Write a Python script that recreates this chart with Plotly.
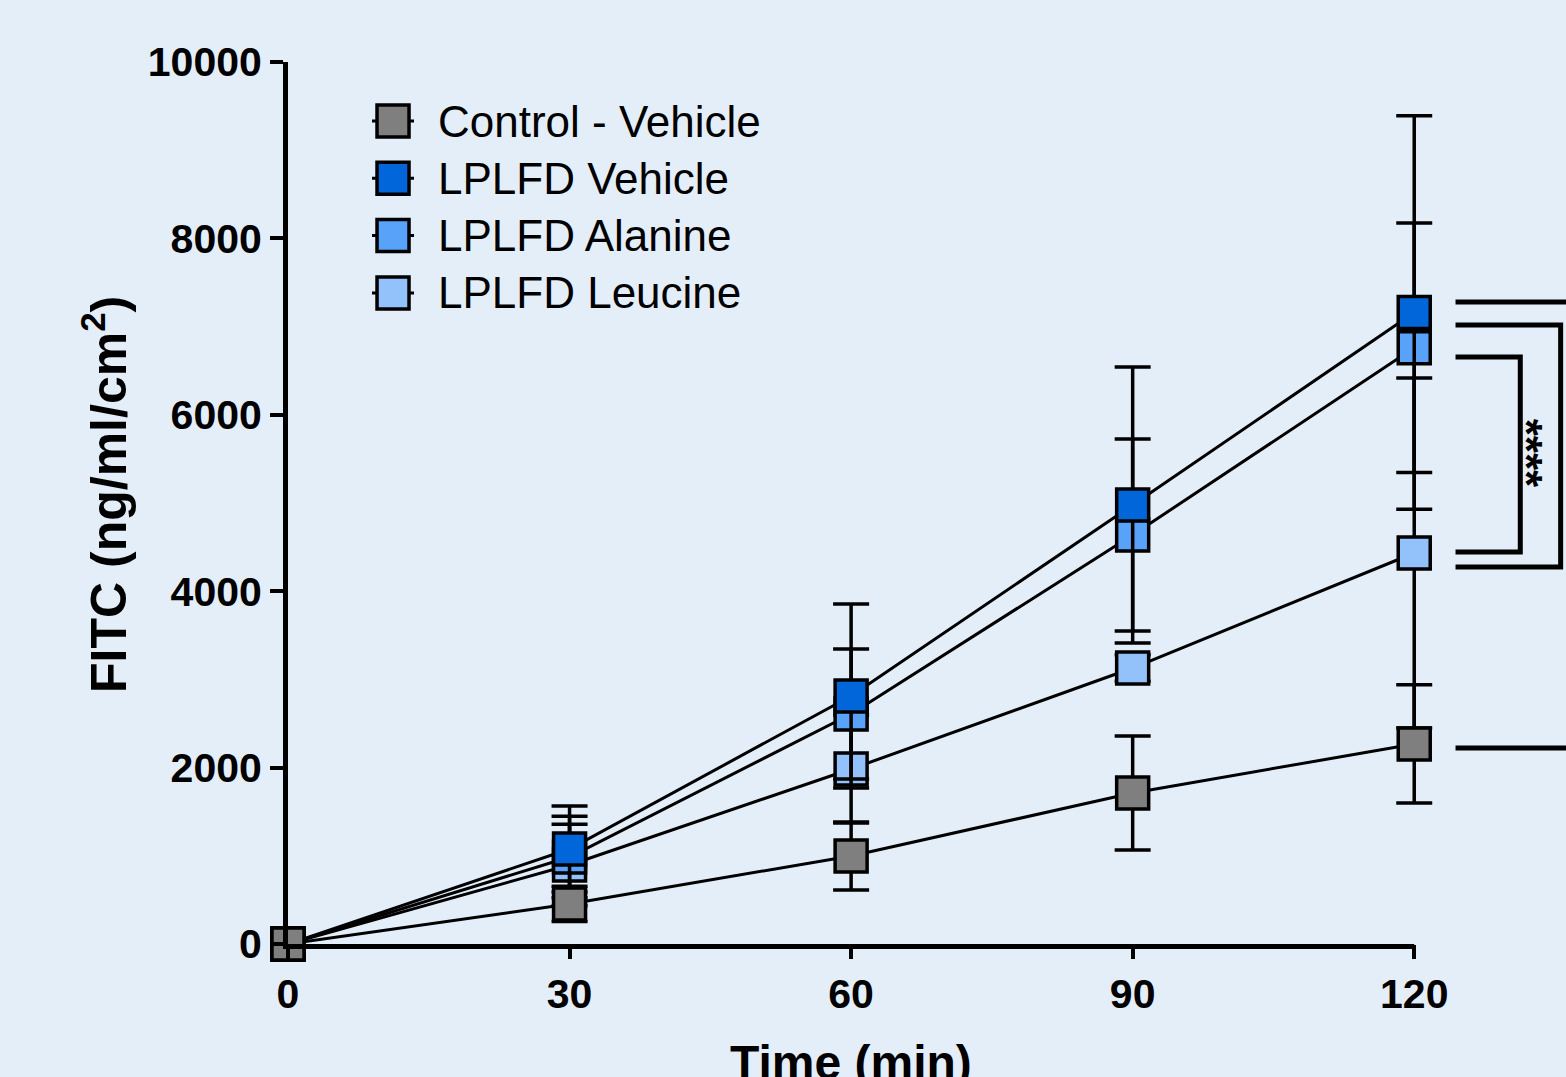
import plotly.graph_objects as go

# ---------------- data ----------------
time_min = [0, 30, 60, 90, 120]
series_names = ["Control - Vehicle", "LPLFD Vehicle", "LPLFD Alanine", "LPLFD Leucine"]
control = [0, 454, 998, 1712, 2268]
control_sd = [0, 200, 386, 646, 670]
vehicle = [0, 1077, 2812, 4977, 7160]
vehicle_sd = [0, 488, 1043, 1565, 2230]
alanine = [0, 986, 2608, 4637, 6760]
alanine_sd = [0, 463, 737, 1089, 1415]
leucine = [0, 896, 1984, 3129, 4433]
leucine_sd = [0, 461, 612, 150, 1984]
y_ticks = [0, 2000, 4000, 6000, 8000, 10000]
x_ticks = [0, 30, 60, 90, 120]
sig_label = "****"

colors = ["#7f7f7f", "#0066d9", "#58a2fa", "#93c1f9"]
bg = "#e4eef9"

# ---------------- layout geometry ----------------
W, H = 1566, 1077
L, R, T, B = 288, 1414, 62, 944      # pixel box spanned by x 0..120, y 0..10000
XMAX, YMAX = 120, 10000
XPAD = 2                              # small extra x range so error bars at 120 aren't clipped
R_PLOT = L + (R - L) * (XMAX + XPAD) / XMAX


def xp(px):
    return (px - L) / (R_PLOT - L)


def yp(py):
    return (B - py) / (B - T)


def tx(t):      # minutes -> paper x
    return t / (XMAX + XPAD)


def vy(v):      # FITC value -> paper y
    return v / YMAX


FONT = "Liberation Sans, Arial, sans-serif"

fig = go.Figure()

values = [control, vehicle, alanine, leucine]
sds = [control_sd, vehicle_sd, alanine_sd, leucine_sd]

# draw in reverse order (last data set first), like the original
for i in [3, 2, 1, 0]:
    fig.add_trace(go.Scatter(
        x=time_min, y=values[i], name=series_names[i],
        mode="lines+markers",
        line=dict(color="black", width=3),
        marker=dict(symbol="square", size=32, color=colors[i],
                    line=dict(color="black", width=3.5)),
        error_y=dict(type="data", array=sds[i], visible=True,
                     color="black", thickness=3.5, width=18),
        cliponaxis=False, showlegend=False,
    ))

shapes = []
annotations = []

# ---- x axis line (ends at 120) ----
shapes.append(dict(type="line", xref="paper", yref="paper",
                   ysizemode="pixel", yanchor=0, y0=-2.5, y1=-2.5,
                   x0=xp(L - 5), x1=tx(XMAX),
                   line=dict(color="black", width=5), layer="above"))

# ---- manual legend ----
leg_x = 393
leg_y0 = 121
leg_dy = 57.3
for i, name in enumerate(series_names):
    cy = leg_y0 + i * leg_dy
    shapes.append(dict(type="line", xref="paper", yref="paper",
                       x0=xp(leg_x - 21), x1=xp(leg_x + 21), y0=yp(cy), y1=yp(cy),
                       line=dict(color="black", width=3)))
    shapes.append(dict(type="rect", xref="paper", yref="paper",
                       xsizemode="pixel", ysizemode="pixel",
                       xanchor=xp(leg_x), yanchor=yp(cy),
                       x0=-16, x1=16, y0=-16, y1=16,
                       fillcolor=colors[i], line=dict(color="black", width=3.5)))
    annotations.append(dict(xref="paper", yref="paper", x=xp(436), y=yp(cy),
                            xanchor="left", yanchor="middle", showarrow=False,
                            text=name, font=dict(family=FONT, size=44, color="black")))

# ---- significance brackets (data units: minutes, FITC) ----
b_start = 124.4
outer_lines = [7279, 2222]          # lines continuing past the right edge
brackets = [(135.6, 7018, 4274), (131.3, 6655, 4444)]

for v in outer_lines:
    shapes.append(dict(type="line", xref="paper", yref="paper",
                       x0=tx(b_start), x1=tx(150), y0=vy(v), y1=vy(v),
                       line=dict(color="black", width=5)))
for (xr, ytop, ybot) in brackets:
    path = (f"M {tx(b_start)} {vy(ytop)} L {tx(xr)} {vy(ytop)} "
            f"L {tx(xr)} {vy(ybot)} L {tx(b_start)} {vy(ybot)}")
    shapes.append(dict(type="path", xref="paper", yref="paper", path=path,
                       line=dict(color="black", width=5)))

annotations.append(dict(xref="paper", yref="paper", x=tx(131.9), y=vy(5560),
                        text=sig_label, textangle=90, showarrow=False,
                        xanchor="center", yanchor="middle",
                        font=dict(family=FONT, size=44, color="black", weight="bold")))

# ---- axis titles ----
annotations.append(dict(xref="paper", yref="paper", x=xp(105), y=yp(494),
                        text="FITC (ng/ml/cm<sup>2</sup>)", textangle=-90, showarrow=False,
                        xanchor="center", yanchor="middle",
                        font=dict(family=FONT, size=50, color="black", weight="bold")))
annotations.append(dict(xref="paper", yref="paper", x=xp(851), y=yp(1062),
                        text="Time (min)", showarrow=False,
                        xanchor="center", yanchor="middle",
                        font=dict(family=FONT, size=48, color="black", weight="bold")))

fig.update_layout(
    width=W, height=H,
    margin=dict(l=L, r=W - R_PLOT, t=T, b=H - B, pad=0),
    paper_bgcolor=bg, plot_bgcolor=bg,
    shapes=shapes, annotations=annotations,
    showlegend=False,
    xaxis=dict(range=[0, XMAX + XPAD], tickvals=x_ticks, ticktext=[str(t) for t in x_ticks],
               showgrid=False, zeroline=False, showline=False,
               ticks="outside", ticklen=14, tickwidth=4, tickcolor="black",
               tickfont=dict(family=FONT, size=41, color="black", weight="bold")),
    yaxis=dict(range=[0, YMAX], tickvals=y_ticks, ticktext=[str(t) for t in y_ticks],
               showgrid=False, zeroline=False, showline=True, linecolor="black", linewidth=5,
               ticks="outside", ticklen=13, tickwidth=4, tickcolor="black",
               tickfont=dict(family=FONT, size=41, color="black", weight="bold")),
)

fig.write_html(
    "out.html",
    config={"displayModeBar": False},
    post_script="document.body.style.margin='0';document.body.style.background='" + bg + "';",
)
